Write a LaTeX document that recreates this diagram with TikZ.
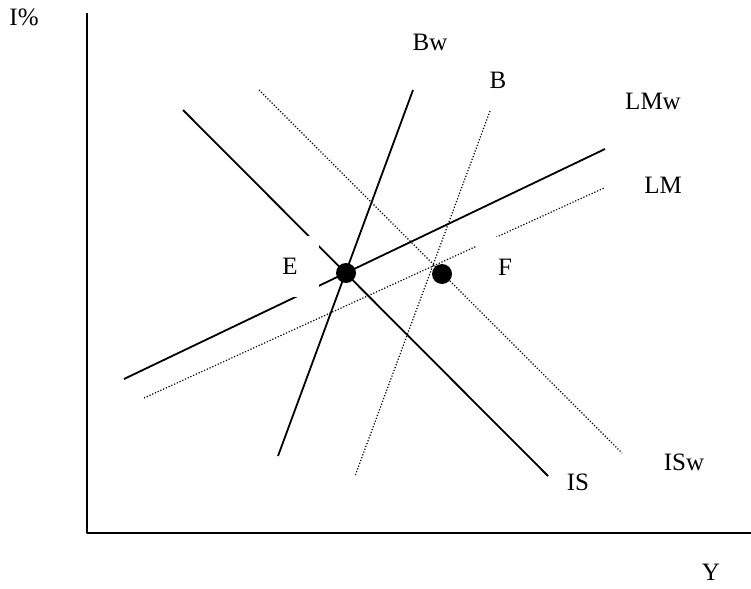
\documentclass[tikz,border=0pt]{standalone}
\usepackage{fontspec}
\setmainfont{Liberation Serif}
\tikzset{
    lab/.style={
        font=\fontsize{25}{30}\selectfont
    }
}

\begin{document}
\begin{tikzpicture}[x=1pt,y=-1pt, line join=round]

\useasboundingbox (0,0) rectangle (751,588);

\tikzset{
  axis/.style={draw=black, line width=2pt},
  main/.style={draw=black, line width=1.8pt},
  shifted/.style={draw=black, line width=1.2pt, dash pattern=on 1.2pt off 1.8pt},
  dot/.style={circle, fill=black, minimum size=20pt, inner sep=0pt},
  cover/.style={lab, fill=white, minimum width=58pt, minimum height=61pt, inner sep=0pt},
}

% axes
\coordinate (O) at (87,533);
\coordinate (Itop) at (87,13);
\coordinate (Yend) at (751,533);
\draw[axis] (Itop) -- (O) -- (Yend);

% curve ends
\coordinate (IS1) at (183,110);
\coordinate (IS2) at (548,476);
\coordinate (ISw1) at (259,90);
\coordinate (ISw2) at (622,453);

\coordinate (Bw1) at (413,90);
\coordinate (Bw2) at (278,456);
\coordinate (B1) at (490,111);
\coordinate (B2) at (355,476);

\coordinate (LMw1) at (124,379);
\coordinate (LMw2) at (605,149);
\coordinate (LM1) at (144,398);
\coordinate (LM2) at (604,188);

% solid curves
\draw[main] (IS1) -- (IS2);
\draw[main] (Bw1) -- (Bw2);
\draw[main] (LMw1) -- (LMw2);

% dotted curves
\draw[shifted] (ISw1) -- (ISw2);
\draw[shifted] (B1) -- (B2);
\draw[shifted] (LM1) -- (LM2);

% point labels (white boxes hide the lines behind them)
\node[cover] (lE) at (290,266.5) {E};
\node[cover] (lF) at (505,267.5) {F};

% equilibria
\node[dot] (E) at (346,273) {};
\node[dot] (F) at (442,274) {};

% labels
\node[lab] (lI)   at (24,17)   {I\%};
\node[lab, anchor=base, inner sep=0pt] (lY) at (711,580) {Y};
\node[lab] (lBw)  at (430,42)  {Bw};
\node[lab] (lB)   at (498,80)  {B};
\node[lab] (lLMw) at (653,101) {LMw};
\node[lab] (lLM)  at (663,185) {LM};
\node[lab] (lIS)  at (578,482) {IS};
\node[lab] (lISw) at (684,462) {ISw};

\end{tikzpicture}
\end{document}
